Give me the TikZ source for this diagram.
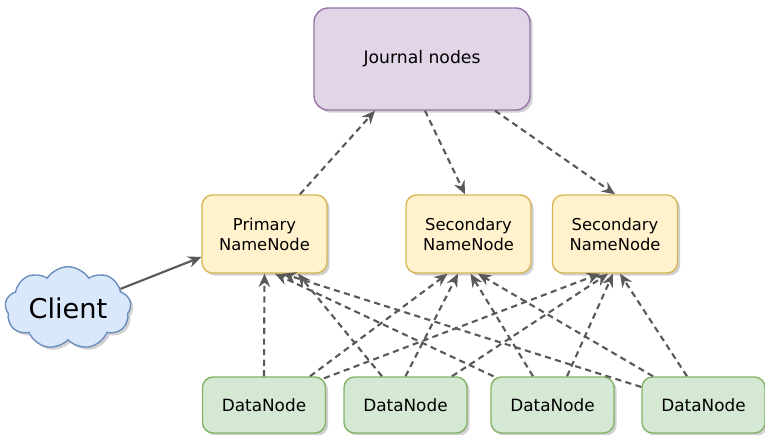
\documentclass[tikz,border=0pt]{standalone}
\usepackage{fontspec}
\setmainfont{DejaVu Sans}
\usepackage{tikz}
\usetikzlibrary{positioning}
\usetikzlibrary{shapes.symbols}
\usetikzlibrary{shadows}
\usetikzlibrary{arrows.meta}
\definecolor{jfill}{HTML}{E1D5E7}
\definecolor{jline}{HTML}{9673A6}
\definecolor{nfill}{HTML}{FFF2CC}
\definecolor{nline}{HTML}{D6B656}
\definecolor{dfill}{HTML}{D5E8D4}
\definecolor{dline}{HTML}{82B366}
\definecolor{cfill}{HTML}{DAE8FC}
\definecolor{cline}{HTML}{6C8EBF}
\definecolor{agray}{HTML}{595959}
\tikzstyle{sh}=[drop shadow={shadow xshift=1.5pt, shadow yshift=-1.5pt, opacity=0.18, fill=black}]
\tikzstyle{jx}=[draw=jline,fill=jfill,rectangle,rounded corners=8pt,line width=0.8pt,minimum width=4.32cm,minimum height=2.04cm,sh,font=\fontsize{9.8}{12}\selectfont]
\tikzstyle{nx}=[draw=nline,fill=nfill,rectangle,rounded corners=6pt,line width=0.8pt,minimum width=2.5cm,minimum height=1.56cm,align=center,sh,font=\fontsize{9.3}{11.3}\selectfont]
\tikzstyle{dx}=[draw=dline,fill=dfill,rectangle,rounded corners=6pt,line width=0.8pt,minimum width=2.46cm,minimum height=1.12cm,sh,font=\fontsize{9.6}{11.5}\selectfont]
\tikzstyle{cx}=[draw=cline,fill=cfill,cloud,cloud puffs=9,cloud puff arc=115,aspect=1.7,inner sep=0pt,line width=0.8pt,minimum width=2.52cm,minimum height=1.46cm,sh,font=\fontsize{15.5}{18}\selectfont]
\tikzstyle{dl}=[draw=agray,line width=1.2pt,dash pattern=on 3.5pt off 2.5pt,-{Stealth[length=7.5pt,width=6.5pt]}]
\tikzstyle{sl}=[draw=agray,line width=1.2pt,-{Stealth[length=7.5pt,width=6.5pt]}]
\begin{document}
\begin{tikzpicture}[x=0.02cm,y=-0.02cm]
      \useasboundingbox (0,0) rectangle (765,435);
      \node [jx] (jn) at (422,59) {Journal nodes};
      \node [nx] (pn) at (264.5,234) {Primary\\NameNode};
      \node [nx] (sn1) at (468.5,234) {Secondary\\NameNode};
      \node [nx] (sn2) at (615,234) {Secondary\\NameNode};
      \node [cx] (cl) at (68,308) {Client};
      \node [dx] (d1) at (264,405) {DataNode};
      \node [dx] (d2) at (405.5,405) {DataNode};
      \node [dx] (d3) at (552.5,405) {DataNode};
      \node [dx] (d4) at (703.5,405) {DataNode};
      % journal
      \path [dl]
      ([xshift=0.71cm]pn.north) -- ([xshift=-0.94cm]jn.south);
      \path [dl]
      ([xshift=0.06cm]jn.south) -- ([xshift=-0.07cm]sn1.north);
      \path [dl]
      ([xshift=1.46cm]jn.south) -- (sn2.north);
      % client
      \path [sl] (cl.20) -- ([yshift=-0.46cm]pn.west);
      % datanodes
      \path [dl] (d1.north) -- (pn.south);
      \path [dl] ([xshift=0.92cm]d1.north) -- ([xshift=-0.42cm]sn1.south);
      \path [dl] ([xshift=1.2cm,yshift=-0.04cm]d1.north) -- ([xshift=-0.3cm]sn2.south);
      \path [dl] ([xshift=-0.47cm]d2.north) -- ([xshift=0.67cm]pn.south);
      \path [dl] (d2.north) -- ([xshift=-0.21cm]sn1.south);
      \path [dl] ([xshift=0.93cm]d2.north) -- ([xshift=-0.14cm]sn2.south);
      \path [dl] ([xshift=-1.18cm]d3.north) -- ([xshift=0.21cm]pn.south);
      \path [dl] ([xshift=-0.39cm]d3.north) -- ([xshift=0.04cm]sn1.south);
      \path [dl] ([xshift=0.29cm]d3.north) -- ([xshift=-0.04cm]sn2.south);
      \path [dl] ([yshift=0.36cm]d4.west) -- ([xshift=0.37cm]pn.south);
      \path [dl] ([xshift=-1.01cm]d4.north) -- ([xshift=0.19cm]sn1.south);
      \path [dl] ([xshift=-0.33cm]d4.north) -- ([xshift=0.1cm]sn2.south);
    \end{tikzpicture}
\end{document}
